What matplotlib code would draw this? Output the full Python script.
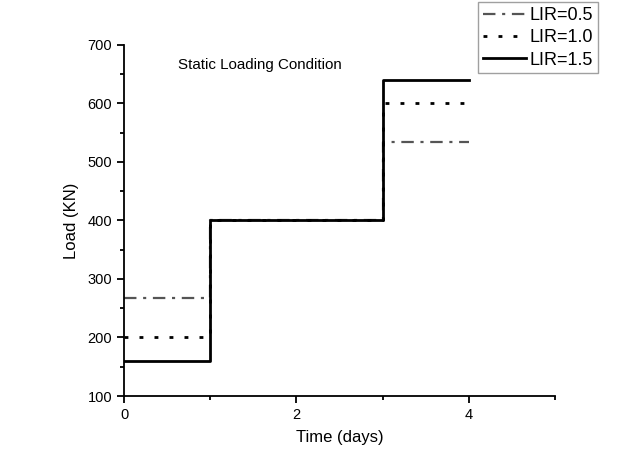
import matplotlib
matplotlib.use("Agg")
import matplotlib.pyplot as plt
from matplotlib.ticker import MultipleLocator

plt.rcParams['font.family'] = ['Liberation Sans', 'DejaVu Sans']

# step change times (days) and loads (KN)
time_days = [0, 1, 3, 4]
load_lir05 = [266.7, 400, 533.3, 533.3]
load_lir10 = [200, 400, 600, 600]
load_lir15 = [160, 400, 640, 640]

fig = plt.figure(figsize=(6.27, 4.72), dpi=100)
ax = fig.add_axes([0.198, 0.161, 0.687, 0.744])

l1, = ax.plot(time_days, load_lir05, drawstyle="steps-post", color="#555555",
              linestyle=(0, (5.6, 3, 1.4, 3)), linewidth=1.6, label="LIR=0.5")
l2, = ax.plot(time_days, load_lir10, drawstyle="steps-post", color="black",
              linestyle=(0, (1.4, 4)), linewidth=2.0, label="LIR=1.0")
l3, = ax.plot(time_days, load_lir15, drawstyle="steps-post", color="black",
              linestyle="-", linewidth=2.0, label="LIR=1.5")

ax.set_xlim(0, 5)
ax.set_ylim(100, 700)
ax.xaxis.set_major_locator(MultipleLocator(2))
ax.xaxis.set_minor_locator(MultipleLocator(1))
ax.yaxis.set_major_locator(MultipleLocator(100))
ax.yaxis.set_minor_locator(MultipleLocator(50))
ax.spines["top"].set_visible(False)
ax.spines["right"].set_visible(False)
ax.spines["left"].set_linewidth(1.3)
ax.spines["bottom"].set_linewidth(1.3)
ax.tick_params(which="major", direction="out", length=5, width=1.3, labelsize=10.5)
ax.tick_params(which="minor", direction="out", length=3, width=1.3)

ax.set_xlabel("Time (days)", fontsize=12, labelpad=6)
ax.set_ylabel("Load (KN)", fontsize=12, labelpad=6)
ax.text(0.63, 665, "Static Loading Condition", fontsize=10.9, va="center")

fig.legend(handles=[l1, l2, l3], loc="upper right", bbox_to_anchor=(0.953, 0.995),
           fontsize=13, frameon=True, fancybox=False, edgecolor="#888888",
           handlelength=2.4, handletextpad=0.2, borderpad=0.25, labelspacing=0.3,
           borderaxespad=0.0)

fig.savefig("out.png", dpi=100)
